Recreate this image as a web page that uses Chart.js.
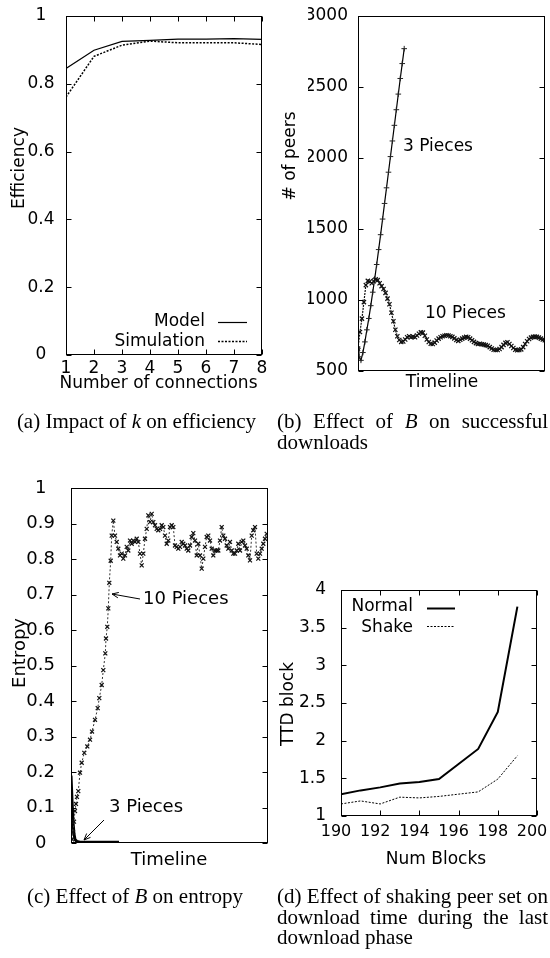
<!DOCTYPE html>
<html><head><meta charset="utf-8">
<script src="https://cdn.jsdelivr.net/npm/chart.js@4/dist/chart.umd.min.js"></script>
<style>
html,body{margin:0;padding:0;background:#fff;}
body{width:550px;height:958px;position:relative;overflow:hidden;}
canvas{position:absolute;left:0;top:0;}
.cap{position:absolute;font-family:'Liberation Serif','Times New Roman',serif;font-size:21px;line-height:20.5px;color:#000;}
.j{text-align:justify;text-align-last:justify;white-space:nowrap;}
</style></head><body>
<canvas id="ca" width="550" height="958"></canvas>
<canvas id="cb" width="550" height="958"></canvas>
<canvas id="cc" width="550" height="958"></canvas>
<canvas id="cd" width="550" height="958"></canvas>
<div class="cap" style="left:0;top:411px;width:273px;text-align:center">(a) Impact of <i>k</i> on efficiency</div>
<div class="cap" style="left:277px;top:411px;width:271px"><div class="j">(b) Effect of <i>B</i> on successful</div><div>downloads</div></div>
<div class="cap" style="left:0;top:886px;width:270px;text-align:center">(c) Effect of <i>B</i> on entropy</div>
<div class="cap" style="left:277px;top:886px;width:271px"><div class="j">(d) Effect of shaking peer set on</div><div class="j">download time during the last</div><div>download phase</div></div>
<script>
// ---------------- data ----------------
// (a) efficiency vs number of connections
const connections = [1, 2, 3, 4, 5, 6, 7, 8];
const efficiencyModel = [0.845, 0.899, 0.925, 0.928, 0.932, 0.932, 0.933, 0.931];
const efficiencySimulation = [0.761, 0.881, 0.914, 0.926, 0.921, 0.921, 0.921, 0.916];
const efficiencyTicks = [0, 0.2, 0.4, 0.6, 0.8, 1];
const efficiencyTickLabels = ['0', '0.2', '0.4', '0.6', '0.8', '1'];
const connectionTickLabels = ['1', '2', '3', '4', '5', '6', '7', '8'];

// (b) number of peers over the timeline
const peersTime3 = [0, 1, 3, 5, 7, 9, 11, 13, 15, 17, 19, 21, 23, 25, 27, 29, 31, 33, 35, 37, 39, 41, 43, 45, 47];
const peers3Pieces = [660, 600, 575, 630, 705, 790, 870, 960, 1055, 1150, 1250, 1355, 1460, 1570, 1680, 1790, 1900, 2010, 2120, 2230, 2340, 2450, 2560, 2665, 2770];
const peersTime10 = [0, 2, 4, 6, 8, 10, 12, 14, 16, 18, 20, 22, 24, 26, 28, 30, 32, 34, 36, 38, 40, 42, 44, 46, 48, 50, 52, 54, 56, 58, 60, 62, 64, 66, 68, 70, 72, 74, 76, 78, 80, 82, 84, 86, 88, 90, 92, 94, 96, 98, 100, 102, 104, 106, 108, 110, 112, 114, 116, 118, 120, 122, 124, 126, 128, 130, 132, 134, 136, 138, 140, 142, 144, 146, 148, 150, 152, 154, 156, 158, 160, 162, 164, 166, 168, 170, 172, 174, 176, 178, 180, 182, 184, 186, 188, 190];
const peers10Pieces = [658, 775, 869, 985, 1105, 1135, 1130, 1118, 1132, 1145,
  1140, 1118, 1098, 1078, 1050, 1010, 970, 910, 850, 790,
  745, 718, 705, 708, 722, 738, 745, 738, 742, 738,
  750, 762, 772, 770, 748, 722, 704, 692, 690, 700,
  715, 728, 738, 745, 748, 752, 750, 745, 740, 730,
  718, 712, 720, 728, 735, 740, 738, 728, 716, 705,
  696, 690, 692, 688, 686, 682, 678, 668, 658, 650,
  648, 648, 655, 668, 684, 698, 702, 690, 676, 662,
  650, 646, 648, 652, 668, 690, 710, 725, 735, 740,
  742, 740, 735, 728, 722, 716];
const peersTicks = [500, 1000, 1500, 2000, 2500, 3000];
const peersTickLabels = ['500', '1000', '1500', '2000', '2500', '3000'];

// (c) entropy over the timeline
const entropyTime10 = [1, 2, 3, 4, 5, 6, 7.3, 9, 10.7, 13.3, 16.3, 19, 21, 24, 26.7, 28.3, 30.7, 32.3, 34.3, 35, 36.3, 37.3, 38.3, 39.7, 40.7, 42.3,
  44, 45.7, 47.3, 49, 50.7, 52.3, 54, 55.7, 57.3, 59, 60.7, 62.3, 64, 65.7, 67.3, 69, 70.7, 72.3, 74, 75.7, 77.3, 79, 80.7, 82.3,
  84, 85.7, 87.3, 89, 90.7, 92.3, 94, 95.7, 97.3, 99, 100.7, 102.3, 104, 105.7, 107.3, 109, 110.7, 112.3, 114, 115.7, 117.3, 119,
  120.7, 122.3, 124, 125.7, 127.3, 129, 130.7, 132.3, 134, 135.7, 137.3, 139, 140.7, 142.3, 144, 145.7, 147.3, 149, 150.7, 152.3,
  154, 155.7, 157.3, 159, 160.7, 162.3, 164, 165.7, 167.3, 169, 170.7, 172.3, 174, 175.7, 177.3, 179, 180.7, 182.3, 184, 185.7,
  187.3, 189, 190.7, 192.3, 194, 195.7];
const entropy10Pieces = [0.01, 0.03, 0.06, 0.09, 0.11, 0.13, 0.146, 0.198, 0.226, 0.254, 0.272, 0.291, 0.314, 0.347, 0.38, 0.408, 0.445, 0.487, 0.534, 0.576, 0.609, 0.661, 0.733, 0.795, 0.866, 0.908,
  0.866, 0.848, 0.829, 0.810, 0.815, 0.801, 0.810, 0.834, 0.824, 0.852, 0.843, 0.852, 0.848, 0.857, 0.848, 0.815, 0.782, 0.815, 0.857, 0.885, 0.923, 0.904, 0.927, 0.904,
  0.895, 0.885, 0.881, 0.885, 0.895, 0.890, 0.866, 0.843, 0.852, 0.890, 0.895, 0.890, 0.838, 0.834, 0.829, 0.834, 0.848, 0.843, 0.838, 0.829, 0.824, 0.838,
  0.862, 0.873, 0.852, 0.810, 0.843, 0.810, 0.773, 0.801, 0.834, 0.862, 0.866, 0.852, 0.829, 0.810, 0.824, 0.824, 0.824, 0.852, 0.890, 0.866,
  0.857, 0.838, 0.829, 0.848, 0.824, 0.815, 0.815, 0.824, 0.843, 0.824, 0.848, 0.852, 0.838, 0.829, 0.810, 0.796, 0.866, 0.881, 0.890, 0.815,
  0.801, 0.815, 0.829, 0.843, 0.857, 0.871];
const entropyTime3 = [0, 1, 2, 3, 4, 6, 9, 14, 20, 28, 36, 44, 48];
const entropy3Pieces = [0.19, 0.12, 0.06, 0.025, 0.01, 0.004, 0.002, 0.002, 0.002, 0.002, 0.002, 0.002, 0.002];
const entropyTicks = [0, 0.1, 0.2, 0.3, 0.4, 0.5, 0.6, 0.7, 0.8, 0.9, 1];
const entropyTickLabels = ['0', '0.1', '0.2', '0.3', '0.4', '0.5', '0.6', '0.7', '0.8', '0.9', '1'];

// (d) time to download a block
const numBlocks = [190, 191, 192, 193, 194, 195, 196, 197, 198, 199];
const ttdNormal = [1.29, 1.34, 1.38, 1.43, 1.45, 1.49, 1.69, 1.89, 2.38, 3.78];
const ttdShake = [1.16, 1.20, 1.16, 1.25, 1.24, 1.26, 1.29, 1.32, 1.49, 1.80];
const blockTicks = [190, 192, 194, 196, 198, 200];
const blockTickLabels = ['190', '192', '194', '196', '198', '200'];
const ttdTicks = [1, 1.5, 2, 2.5, 3, 3.5, 4];
const ttdTickLabels = ['1', '1.5', '2', '2.5', '3', '3.5', '4'];

// ---------------- drawing ----------------
const FAMILY = '"DejaVu Sans", "Liberation Sans", Arial, sans-serif';
Chart.defaults.color = '#000';
Chart.defaults.font = {family: FAMILY, size: 17};

function pts(xs, ys) { return xs.map((x, i) => ({x: x, y: ys[i]})); }

function framePlugin(spec) {
  return {
    id: 'frame_' + spec.name,
    afterDraw(chart) {
      const ctx = chart.ctx, a = chart.chartArea;
      const xs = chart.scales.x, ys = chart.scales.y;
      ctx.save();
      ctx.strokeStyle = '#000';
      ctx.lineWidth = 1;
      ctx.setLineDash([]);
      const L = Math.round(a.left) + 0.5, R = Math.round(a.right) - 0.5;
      const T = Math.round(a.top) + 0.5, B = Math.round(a.bottom) - 0.5;
      ctx.strokeRect(L, T, R - L, B - T);
      const tl = 5;
      ctx.beginPath();
      if (spec.x.ticks) spec.x.ticks.forEach(v => {
        const p = Math.round(xs.getPixelForValue(v)) + 0.5;
        ctx.moveTo(p, B); ctx.lineTo(p, B - tl);
        ctx.moveTo(p, T); ctx.lineTo(p, T + tl);
      });
      spec.y.ticks.forEach(v => {
        const p = Math.round(ys.getPixelForValue(v)) + 0.5;
        ctx.moveTo(L, p); ctx.lineTo(L + tl, p);
        ctx.moveTo(R, p); ctx.lineTo(R - tl, p);
      });
      ctx.stroke();

      ctx.fillStyle = '#000';
      ctx.font = spec.fs + 'px ' + FAMILY;
      ctx.textBaseline = 'middle';
      (spec.texts || []).forEach(t => {
        ctx.save();
        ctx.translate(t.x, t.y);
        if (t.rot) ctx.rotate(-Math.PI / 2);
        ctx.textAlign = t.align || 'center';
        ctx.fillText(t.s, 0, 0);
        ctx.restore();
      });
      (spec.keys || []).forEach(k => {
        const ds = chart.data.datasets[k.ds];
        ctx.textAlign = 'right';
        ctx.fillText(ds.label, k.tx, k.ty);
        ctx.save();
        ctx.strokeStyle = ds.borderColor;
        ctx.lineWidth = ds.borderWidth;
        ctx.setLineDash(ds.borderDash || []);
        ctx.beginPath();
        ctx.moveTo(k.x1, k.ly); ctx.lineTo(k.x2, k.ly);
        ctx.stroke();
        ctx.restore();
      });
      (spec.arrows || []).forEach(ar => {
        ctx.save();
        ctx.strokeStyle = '#000'; ctx.lineWidth = 1; ctx.setLineDash([]);
        ctx.beginPath();
        ctx.moveTo(ar.x1, ar.y1); ctx.lineTo(ar.x2, ar.y2);
        const ang = Math.atan2(ar.y2 - ar.y1, ar.x2 - ar.x1), hl = 7, ha = 0.4;
        ctx.moveTo(ar.x2, ar.y2); ctx.lineTo(ar.x2 - hl * Math.cos(ang - ha), ar.y2 - hl * Math.sin(ang - ha));
        ctx.moveTo(ar.x2, ar.y2); ctx.lineTo(ar.x2 - hl * Math.cos(ang + ha), ar.y2 - hl * Math.sin(ang + ha));
        ctx.stroke();
        ctx.restore();
      });
      ctx.restore();
    }
  };
}

function makeChart(id, spec) {
  const Wy = 50, Hx = 30;
  const a = spec.area;
  const xCfg = {
    type: 'linear', min: spec.x.min, max: spec.x.max,
    ticks: {display: !!spec.x.labels, padding: spec.x.pad || 3, maxRotation: 0, minRotation: 0, autoSkip: false,
      labelOffset: spec.x.offset || 0,
      font: {family: FAMILY, size: spec.x.fs || spec.fs},
      callback: (v, i) => spec.x.labels ? spec.x.labels[i] : ''},
    grid: {display: false, drawTicks: false},
    border: {display: false},
    afterFit: s => { s.height = Hx; s.paddingLeft = 0; s.paddingRight = 0; }
  };
  if (spec.x.ticks) xCfg.afterBuildTicks = s => { s.ticks = spec.x.ticks.map(v => ({value: v})); };
  const yCfg = {
    type: 'linear', min: spec.y.min, max: spec.y.max,
    afterBuildTicks: s => { s.ticks = spec.y.ticks.map(v => ({value: v})); },
    ticks: {padding: spec.y.pad, crossAlign: spec.y.align, autoSkip: false,
      font: {family: FAMILY, size: spec.fs},
      callback: (v, i) => spec.y.labels[i]},
    grid: {display: false, drawTicks: false},
    border: {display: false},
    afterFit: s => { s.width = Wy; s.paddingTop = 0; s.paddingBottom = 0; }
  };
  return new Chart(document.getElementById(id), {
    type: 'line',
    data: {datasets: spec.datasets},
    options: {
      responsive: false, animation: false, devicePixelRatio: 1,
      layout: {padding: {left: a.l - Wy, right: 550 - a.r, top: a.t, bottom: 958 - a.b - Hx}},
      plugins: {legend: {display: false}, tooltip: {enabled: false}},
      elements: {line: {tension: 0}},
      scales: {x: xCfg, y: yCfg}
    },
    plugins: [framePlugin(spec)]
  });
}

// (a)
makeChart('ca', {
  name: 'a', fs: 17,
  area: {l: 66, t: 16, r: 262, b: 355},
  x: {min: 1, max: 8, ticks: connections, labels: connectionTickLabels, pad: 3},
  y: {min: 0, max: 1, ticks: efficiencyTicks, labels: efficiencyTickLabels, pad: 11.5, align: 'center'},
  datasets: [
    {label: 'Model', data: pts(connections, efficiencyModel), borderColor: '#000', borderWidth: 1.2, pointRadius: 0, fill: false},
    {label: 'Simulation', data: pts(connections, efficiencySimulation), borderColor: '#000', borderWidth: 1.5, borderDash: [2, 1.5], pointRadius: 0, fill: false}
  ],
  texts: [
    {s: 'Number of connections', x: 158.5, y: 384},
    {s: 'Efficiency', x: 19.5, y: 168, rot: true}
  ],
  keys: [
    {ds: 0, tx: 205, ty: 322, x1: 218, x2: 247, ly: 322.5},
    {ds: 1, tx: 205, ty: 342, x1: 218, x2: 247, ly: 341.5}
  ]
});

// (b)
makeChart('cb', {
  name: 'b', fs: 17,
  area: {l: 358, t: 16, r: 549, b: 371},
  x: {min: 0, max: 190},
  y: {min: 500, max: 3000, ticks: peersTicks, labels: peersTickLabels, pad: 10, align: 'near'},
  datasets: [
    {label: '10 Pieces', data: pts(peersTime10, peers10Pieces), borderColor: '#111', borderWidth: 1.2, borderDash: [2, 1],
      pointStyle: 'crossRot', pointRadius: 3, pointBorderColor: '#111', pointBorderWidth: 1.2, fill: false},
    {label: '3 Pieces', data: pts(peersTime3, peers3Pieces), borderColor: '#000', borderWidth: 1.2,
      pointStyle: 'cross', pointRadius: 2.8, pointBorderColor: '#222', pointBorderWidth: 1, fill: false}
  ],
  texts: [
    {s: 'Timeline', x: 442, y: 383},
    {s: '# of peers', x: 290.5, y: 156, rot: true},
    {s: '3 Pieces', x: 403, y: 147, align: 'left'},
    {s: '10 Pieces', x: 425, y: 314, align: 'left'}
  ]
});

// (c)
makeChart('cc', {
  name: 'c', fs: 18,
  area: {l: 71, t: 488, r: 268, b: 843},
  x: {min: 0, max: 197},
  y: {min: 0, max: 1, ticks: entropyTicks, labels: entropyTickLabels, pad: 16, align: 'center'},
  datasets: [
    {label: '10 Pieces', data: pts(entropyTime10, entropy10Pieces), borderColor: '#333', borderWidth: 1, borderDash: [2, 2],
      pointStyle: 'crossRot', pointRadius: 2.8, pointBorderColor: '#111', pointBorderWidth: 1.2, fill: false},
    {label: '3 Pieces', data: pts(entropyTime3, entropy3Pieces), borderColor: '#000', borderWidth: 3,
      pointStyle: 'cross', pointRadius: 0, fill: false}
  ],
  texts: [
    {s: 'Timeline', x: 169, y: 860},
    {s: 'Entropy', x: 20, y: 653, rot: true},
    {s: '10 Pieces', x: 143, y: 599, align: 'left'},
    {s: '3 Pieces', x: 109, y: 807, align: 'left'}
  ],
  arrows: [
    {x1: 140, y1: 599, x2: 112, y2: 594},
    {x1: 104, y1: 820, x2: 84, y2: 840}
  ]
});

// (d)
makeChart('cd', {
  name: 'd', fs: 17,
  area: {l: 341, t: 590, r: 537, b: 816},
  x: {min: 190, max: 200, ticks: blockTicks, labels: blockTickLabels, pad: 6, fs: 16, offset: -5},
  y: {min: 1, max: 4, ticks: ttdTicks, labels: ttdTickLabels, pad: 15, align: 'near'},
  datasets: [
    {label: 'Normal', data: pts(numBlocks, ttdNormal), borderColor: '#000', borderWidth: 2, pointRadius: 0, fill: false},
    {label: 'Shake', data: pts(numBlocks, ttdShake), borderColor: '#000', borderWidth: 1, borderDash: [2, 1.5], pointRadius: 0, fill: false}
  ],
  texts: [
    {s: 'Num Blocks', x: 436, y: 860},
    {s: 'TTD block', x: 289, y: 704, rot: true}
  ],
  keys: [
    {ds: 0, tx: 413, ty: 607, x1: 427, x2: 455, ly: 608.5},
    {ds: 1, tx: 413, ty: 628, x1: 427, x2: 455, ly: 626.5}
  ]
});
</script>
</body></html>
